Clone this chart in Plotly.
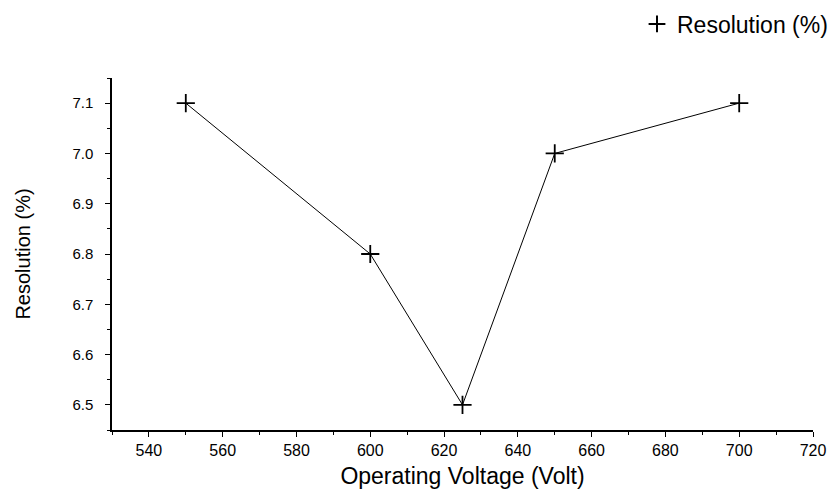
import plotly.graph_objects as go

voltage = [550, 600, 625, 650, 700]
resolution = [7.1, 6.8, 6.5, 7.0, 7.1]
series_name = "Resolution (%)"
x_title = "Operating Voltage (Volt)"
y_title = "Resolution (%)"

fig = go.Figure()
fig.add_trace(go.Scatter(x=voltage, y=resolution, mode="lines",
                         line=dict(color="black", width=1), showlegend=False,
                         hoverinfo="skip"))
fig.add_trace(go.Scatter(x=voltage, y=resolution, mode="markers", name=series_name,
                         marker=dict(symbol="cross-thin-open", size=13, color="black",
                                     line=dict(color="black", width=1.8))))

font = "Liberation Sans, Arial, sans-serif"
fig.update_layout(
    width=833, height=491,
    margin=dict(l=112, r=20, t=78, b=61, autoexpand=False),
    plot_bgcolor="white", paper_bgcolor="white",
    font=dict(family=font, color="black"),
    legend=dict(x=1.0, y=0.995, xref="container", yref="container", xanchor="right", yanchor="top",
                font=dict(size=23, family=font), bgcolor="rgba(0,0,0,0)",
                itemwidth=30, tracegroupgap=0, itemsizing="constant"),
    xaxis=dict(range=[530, 720], dtick=20, tick0=540, showgrid=False, zeroline=False,
               showline=True, linecolor="black", linewidth=1.5,
               ticks="outside", ticklen=5, tickwidth=1.2, tickcolor="black",
               tickfont=dict(size=16),
               minor=dict(dtick=10, tick0=530, ticks="outside", ticklen=3, tickcolor="black", tickwidth=1.2),
               title=dict(text=x_title, font=dict(size=23), standoff=10)),
    yaxis=dict(range=[6.45, 7.15], dtick=0.1, tick0=6.5, showgrid=False, zeroline=False,
               showline=True, linecolor="black", linewidth=1.5,
               ticks="outside", ticklen=5, tickwidth=1.2, tickcolor="black",
               tickfont=dict(size=15), tickformat=".1f", ticklabelstandoff=9,
               minor=dict(dtick=0.05, tick0=6.45, ticks="outside", ticklen=3, tickcolor="black", tickwidth=1.2),
               title=dict(text=y_title, font=dict(size=20), standoff=36)),
)

fig.write_html("out.html")
